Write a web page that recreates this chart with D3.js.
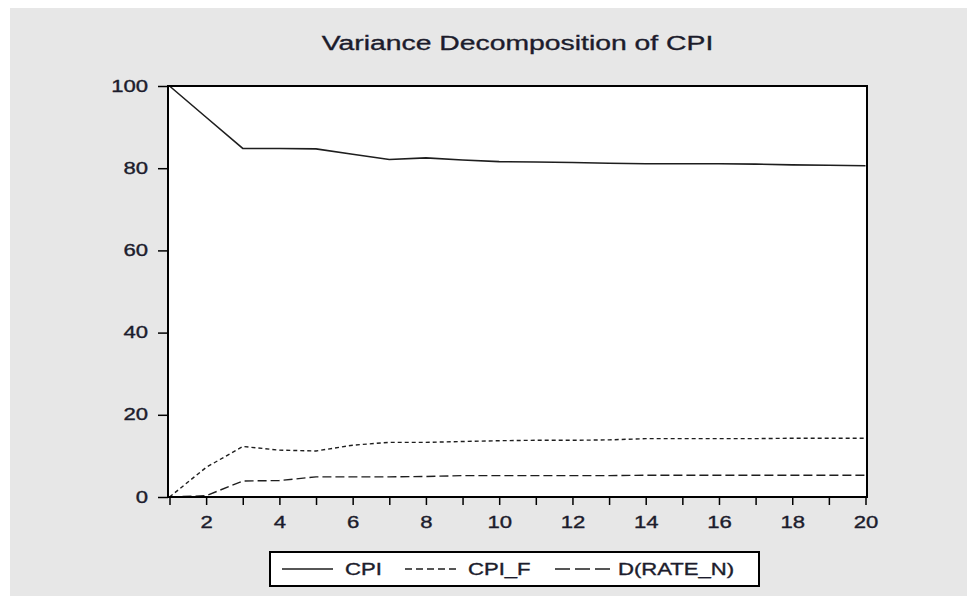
<!DOCTYPE html>
<html>
<head>
<meta charset="utf-8">
<script src="https://cdn.jsdelivr.net/npm/d3@7"></script>
<style>
    body { margin: 0; background: #ffffff; }
    text { font-family: "Liberation Sans", Arial, sans-serif; }
</style>
</head>
<body>
<div id="chart"></div>
<script>
// periods of the variance decomposition
const periods = [1, 2, 3, 4, 5, 6, 7, 8, 9, 10, 11, 12, 13, 14, 15, 16, 17, 18, 19, 20];
const cpi = [100, 92.4, 84.8, 84.8, 84.7, 83.4, 82.1, 82.5, 82.0, 81.6, 81.5, 81.4, 81.2, 81.1, 81.1, 81.1, 81.0, 80.8, 80.7, 80.6];
const cpi_f = [0, 7.2, 12.3, 11.4, 11.2, 12.6, 13.3, 13.3, 13.5, 13.7, 13.8, 13.8, 13.9, 14.2, 14.2, 14.2, 14.2, 14.3, 14.3, 14.3];
const d_rate_n = [0, 0.3, 3.9, 4.0, 4.9, 4.9, 4.9, 5.0, 5.2, 5.2, 5.2, 5.2, 5.2, 5.3, 5.3, 5.3, 5.3, 5.3, 5.3, 5.3];
const series_names = ["CPI", "CPI_F", "D(RATE_N)"];
const y_ticks = [0, 20, 40, 60, 80, 100];
const x_labels = [2, 4, 6, 8, 10, 12, 14, 16, 18, 20];

const W = 967, H = 596;
// the picture is stretched sideways, so text is too
const sx = 1.38;
const frame = {left: 168, right: 867, top: 86, bottom: 497};
const ink = "#1c1c2c";

const svg = d3.select("#chart")
    .append("svg")
    .attr("width", W)
    .attr("height", H);

// gray panel
svg.append("rect")
    .attr("x", 10).attr("y", 8)
    .attr("width", W - 10).attr("height", H - 8)
    .attr("fill", "#e7e7e7");

svg.append("rect")
    .attr("x", frame.left).attr("y", frame.top)
    .attr("width", frame.right - frame.left)
    .attr("height", frame.bottom - frame.top)
    .attr("fill", "#ffffff");

const x = d3.scaleLinear()
    .domain([1, 20])
    .range([frame.left + 1.5, frame.right - 1.5]);

const y = d3.scaleLinear()
    .domain([0, 100])
    .range([frame.bottom, frame.top]);

function heavy(sel) {
    sel.attr("fill", ink)
        .attr("stroke", ink)
        .attr("stroke-width", 0.35);
}

// title
svg.append("text")
    .attr("transform", `translate(${(frame.left + frame.right) / 2},50) scale(1.35,1)`)
    .attr("text-anchor", "middle")
    .attr("font-size", 21)
    .call(heavy)
    .text("Variance Decomposition of CPI");

// y axis
const yAxis = svg.append("g")
    .attr("transform", `translate(${frame.left},0)`)
    .call(d3.axisLeft(y).tickValues(y_ticks).tickSize(10).tickFormat(d3.format("d")));
yAxis.select(".domain").remove();
yAxis.selectAll(".tick line").attr("stroke", "#000").attr("stroke-width", 1.5);
yAxis.selectAll(".tick text")
    .attr("x", -20 / sx)
    .attr("transform", `scale(${sx},1)`)
    .attr("font-size", 16)
    .attr("font-family", null)
    .call(heavy);

// x axis, minor ticks every period, labels on even ones
const xAxis = svg.append("g")
    .attr("transform", `translate(0,${frame.bottom})`)
    .call(d3.axisBottom(x).tickValues(periods).tickSize(8)
        .tickFormat(d => x_labels.includes(d) ? d : ""));
xAxis.select(".domain").remove();
xAxis.selectAll(".tick line").attr("stroke", "#000").attr("stroke-width", 1.5);
xAxis.selectAll(".tick text")
    .attr("y", 31)
    .attr("dy", null)
    .attr("transform", `scale(${sx},1)`)
    .attr("font-size", 16)
    .attr("font-family", null)
    .call(heavy);

// lines
const line = d3.line()
    .x((d, i) => x(periods[i]))
    .y(d => y(d));

const styles = [
    {data: cpi, dash: null, key_dash: null, width: 1.6},
    {data: cpi_f, dash: "4,3", key_dash: "7,4", width: 1.4},
    {data: d_rate_n, dash: "9,4", key_dash: "15,5", width: 1.4}
];

styles.forEach(function (s) {
    svg.append("path")
        .datum(s.data)
        .attr("d", line)
        .attr("fill", "none")
        .attr("stroke", "#1e1e1e")
        .attr("stroke-width", s.width)
        .attr("stroke-dasharray", s.dash);
});

// frame on top
svg.append("rect")
    .attr("x", frame.left).attr("y", frame.top)
    .attr("width", frame.right - frame.left)
    .attr("height", frame.bottom - frame.top)
    .attr("fill", "none")
    .attr("stroke", "#000")
    .attr("stroke-width", 2);

// legend
const legend = svg.append("g");
legend.append("rect")
    .attr("x", 270).attr("y", 552)
    .attr("width", 489).attr("height", 34)
    .attr("fill", "#ffffff")
    .attr("stroke", "#000")
    .attr("stroke-width", 2);

const legend_items = [
    {x1: 282, x2: 333, tx: 345, s: styles[0]},
    {x1: 405, x2: 460, tx: 468, s: styles[1]},
    {x1: 555, x2: 610, tx: 618, s: styles[2]}
];

legend_items.forEach(function (item, i) {
    legend.append("line")
        .attr("x1", item.x1).attr("x2", item.x2)
        .attr("y1", 569).attr("y2", 569)
        .attr("stroke", "#1e1e1e")
        .attr("stroke-width", 1.5)
        .attr("stroke-dasharray", item.s.key_dash);
    legend.append("text")
        .attr("transform", `translate(${item.tx},575) scale(${sx},1)`)
        .attr("font-size", 16)
        .call(heavy)
        .text(series_names[i]);
});
</script>
</body>
</html>
